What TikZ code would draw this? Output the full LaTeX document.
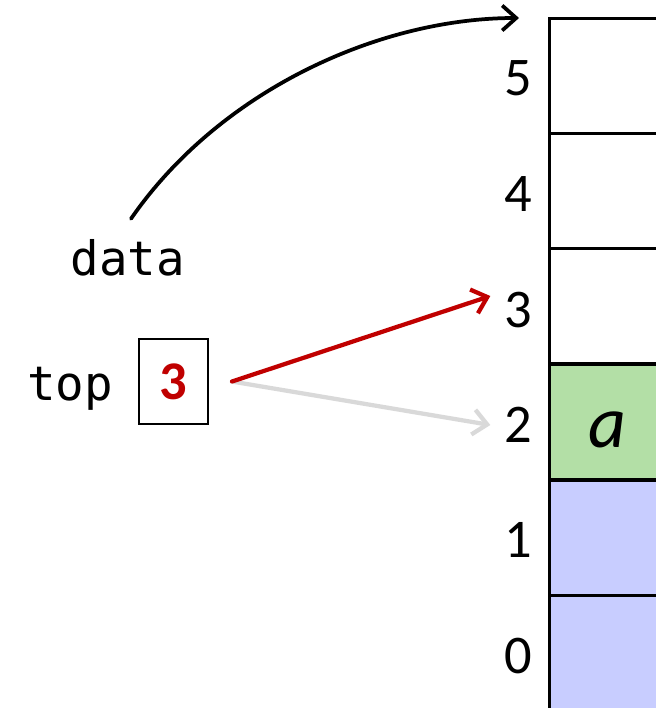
\documentclass[tikz,border=0pt]{standalone}
\usepackage{fontspec}
\setmainfont{Carlito}
\newfontfamily\codefont{DejaVu Sans Mono}
\usetikzlibrary{arrows.meta}

\definecolor{topred}{RGB}{192,0,0}
\definecolor{usedgreen}{RGB}{179,223,166}
\definecolor{filledblue}{RGB}{200,205,255}

\tikzset{
    cell/.style={draw, line width=0.06cm, minimum width=4cm, minimum height=2.31cm,
        anchor=north west, outer sep=0pt},
    idx/.style={inner sep=2pt, font=\fontsize{31}{36}\selectfont},
    code/.style={anchor=base, font=\codefont\fontsize{27}{32}\selectfont},
    ptr/.style={-{Straight Barb[length=0.28cm,width=0.5cm]}, line width=0.085cm, line cap=round}
}

\begin{document}
\begin{tikzpicture}[x=0.02cm,y=-0.02cm]
    \clip (0,0) rectangle (656,708);
    \fill[white] (0,0) rectangle (656,708);
    % the stack cells
    \node[cell, fill=filledblue] (c0) at (549,595) {};
    \node[cell, fill=filledblue] (c1) at (549,480) {};
    \node[cell, fill=usedgreen] (c2) at (549,364) {};
    \node[cell] (c3) at (549,248) {};
    \node[cell] (c4) at (549,133) {};
    \node[cell] (c5) at (549,18) {};
    \node[font=\itshape\fontsize{42}{48}\selectfont, anchor=base] (va) at (607,447) {a};
    % indices
    \node[idx] (l0) at (518,656) {0};
    \node[idx] (l1) at (518,540) {1};
    \node[idx] (l2) at (518,425) {2};
    \node[idx] (l3) at (518,310) {3};
    \node[idx] (l4) at (518,194) {4};
    \node[idx] (l5) at (518,78) {5};
    % variables
    \node[code] (data) at (128,275) {data};
    \node[code] (top) at (70,400) {top};
    \node[draw, line width=0.04cm, minimum width=1.38cm, minimum height=1.7cm,
        text=topred, font=\bfseries\fontsize{31}{36}\selectfont] (box) at (173.5,381.5) {3};
    \coordinate (tp) at ([xshift=0.46cm]box.east);
    \coordinate (dtip) at ([xshift=-0.6cm]c5.north west);
    % pointers
    \draw[ptr, line width=0.075cm] ([shift={(0.06cm,0.28cm)}]data.north)
        .. controls (220,90) and (380,18) .. (dtip);
    \draw[ptr, gray!30] (tp) -- ([shift={(-0.2cm,0cm)}]l2.west);
    \draw[ptr, topred] (tp) -- ([shift={(-0.2cm,0.28cm)}]l3.west);
\end{tikzpicture}
\end{document}
